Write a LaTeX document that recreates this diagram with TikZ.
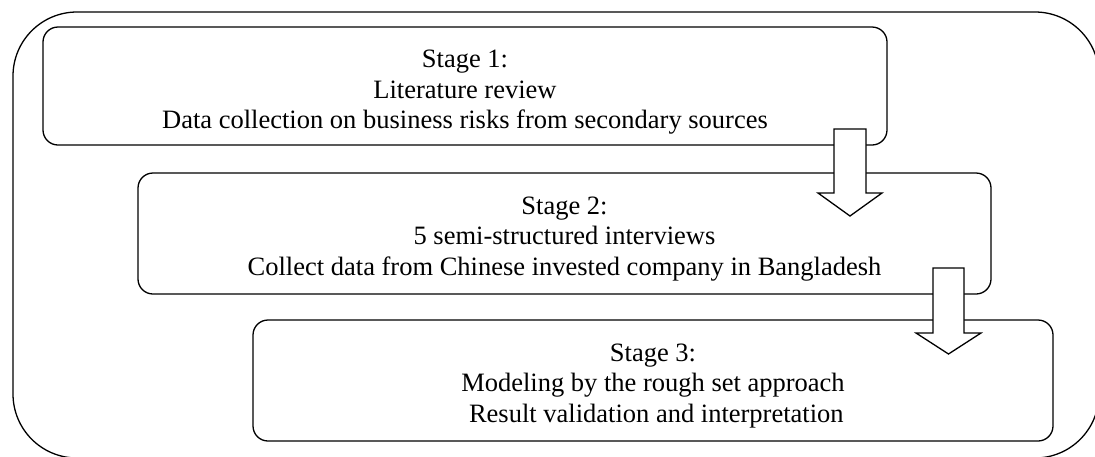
\documentclass[tikz,border=0pt]{standalone}
\usepackage{fontspec}
\setmainfont{Liberation Serif}
\begin{document}
\begin{tikzpicture}[x=1pt,y=-1pt,
  stagebox/.style={draw=black, line width=1.3pt, rounded corners=15pt},
  stagetext/.style={align=center, inner sep=0pt, anchor=base,
    font=\fontsize{26.5}{30.5}\selectfont},
  blockarrow/.style={draw=black, fill=white, line width=1.3pt, line join=miter}]
\useasboundingbox (0,0) rectangle (1095,456);
\begin{scope}
\clip (0,0) rectangle (1095,456);
\draw[line width=1.3pt, rounded corners=64pt] (13,12) rectangle (1099,458);
\end{scope}
% boxes
\draw[stagebox] (43,27) rectangle (887,145);
\draw[stagebox] (138,173) rectangle (991,294);
\draw[stagebox] (253,320) rectangle (1053,441);
% texts (anchor at baseline of last line)
\node[stagetext] (t1) at (465,128.5) {Stage 1:\\Literature review\\Data collection on business risks from secondary sources};
\node[stagetext] (t2) at (564.5,275) {Stage 2:\\5 semi-structured interviews\\Collect data from Chinese invested company in Bangladesh};
\node[stagetext] (t3) at (653,422) {Stage 3:\\Modeling by the rough set approach\\\ Result validation and interpretation};
% block arrows
\draw[blockarrow] (834,129) -- (866,129) -- (866,193) -- (882,193) -- (850,216) -- (818,193) -- (834,193) -- cycle;
\draw[blockarrow] (933,268) -- (964,268) -- (964,333) -- (981,333) -- (948.5,354) -- (916,333) -- (933,333) -- cycle;
\end{tikzpicture}
\end{document}
